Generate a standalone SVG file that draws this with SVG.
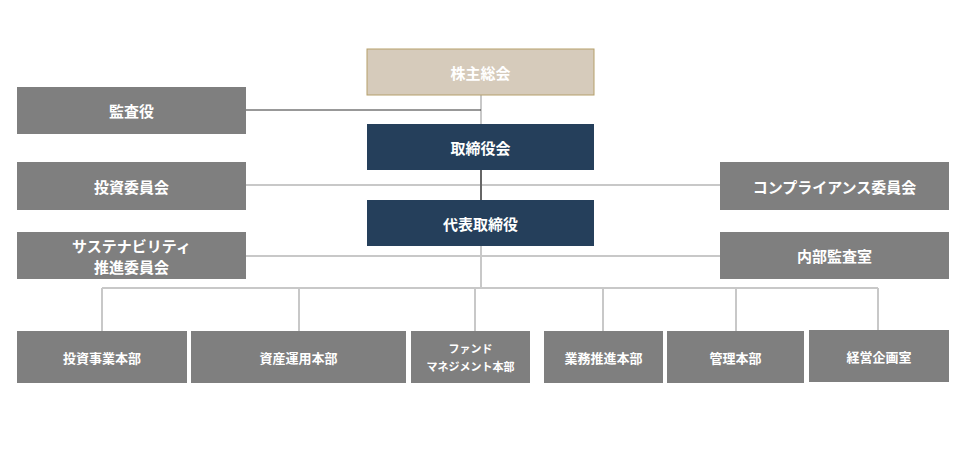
<svg xmlns="http://www.w3.org/2000/svg" width="960" height="452" viewBox="0 0 960 452">
<style>
text{font-family:"Noto Sans CJK JP","Noto Sans",sans-serif;fill:#fff;font-weight:bold;text-anchor:middle;dominant-baseline:central}
.g{fill:#7f7f7f}.n{fill:#253f5b}
.t{font-size:15px}.s{font-size:13px}.x{font-size:11px}
.l{stroke:#c8c8c8;stroke-width:2;fill:none}
</style>
<rect width="960" height="452" fill="#fff"/>
<g id="connectors">
<path class="l" d="M481 95V288M102 288H878M102 288V331M299 288V331M475 288V331M603 288V331M736 288V331M878 288V330M246 185H720M246 256H720"/>
<path d="M481 170V200" stroke="#666" stroke-width="2"/>
<path d="M246 110H481" stroke="#333" stroke-width="1"/>
</g>
<g id="n1"><rect x="367" y="49" width="227" height="46" fill="#d6cbbb" stroke="#b59f6a"/><text class="t" x="480.5" y="72">株主総会</text></g>
<g id="n2"><rect class="g" x="17" y="87" width="229" height="47"/><text class="t" x="131.5" y="110.5">監査役</text></g>
<g id="n3"><rect class="n" x="367" y="124" width="227" height="46"/><text class="t" x="480.5" y="147">取締役会</text></g>
<g id="n4"><rect class="g" x="17" y="162" width="229" height="48"/><text class="t" x="131.5" y="186">投資委員会</text></g>
<g id="n5"><rect class="g" x="720" y="162" width="229" height="48"/><text class="t" x="834.5" y="186">コンプライアンス委員会</text></g>
<g id="n6"><rect class="n" x="367" y="200" width="227" height="46"/><text class="t" x="480.5" y="223">代表取締役</text></g>
<g id="n7"><rect class="g" x="17" y="232" width="229" height="47"/><text class="t" x="131.5" y="245">サステナビリティ</text><text class="t" x="131.5" y="266">推進委員会</text></g>
<g id="n8"><rect class="g" x="720" y="232" width="229" height="47"/><text class="t" x="834.5" y="255.5">内部監査室</text></g>
<g id="n9"><rect class="g" x="17" y="331" width="170" height="52"/><text class="s" x="102" y="357">投資事業本部</text></g>
<g id="n10"><rect class="g" x="191" y="331" width="215" height="52"/><text class="s" x="298.5" y="357">資産運用本部</text></g>
<g id="n11"><rect class="g" x="411" y="331" width="119" height="52"/><text class="x" x="470.5" y="348">ファンド</text><text class="x" x="470.5" y="366">マネジメント本部</text></g>
<g id="n12"><rect class="g" x="544" y="331" width="119" height="52"/><text class="s" x="603.5" y="357">業務推進本部</text></g>
<g id="n13"><rect class="g" x="667" y="331" width="137" height="52"/><text class="s" x="735.5" y="357">管理本部</text></g>
<g id="n14"><rect class="g" x="809" y="330" width="140" height="52"/><text class="s" x="879" y="356">経営企画室</text></g>
</svg>
